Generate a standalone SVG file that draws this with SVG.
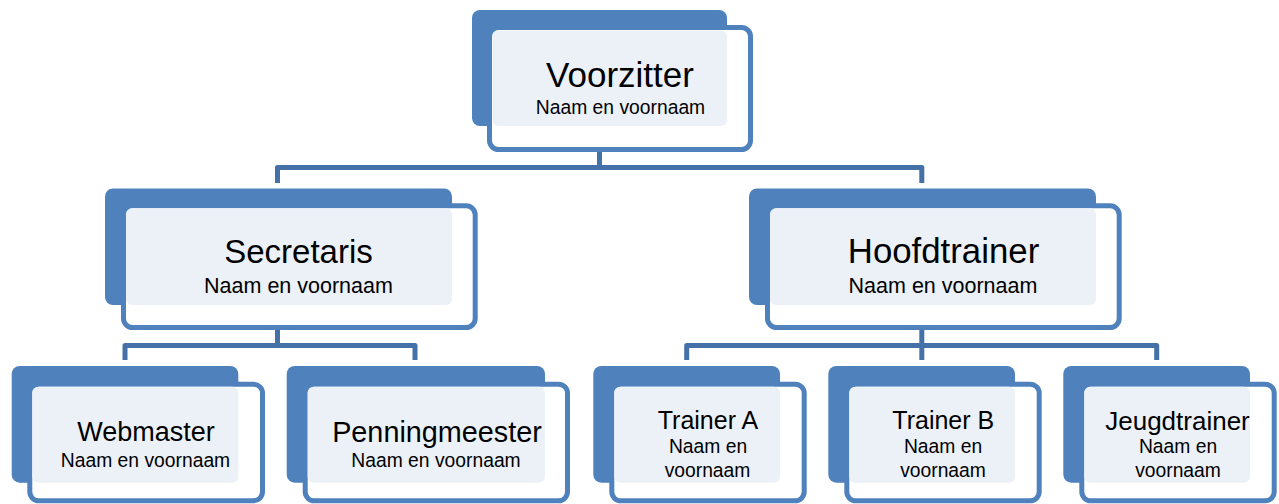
<svg xmlns="http://www.w3.org/2000/svg" width="1279" height="504" viewBox="0 0 1279 504">
<style>
.back{fill:#4F81BD}
.frame{fill:#FFFFFF;stroke:#4F81BD;stroke-width:5}
.lite{fill:#ECF1F8}
.strip{fill:#E6EBF4}
.conn{fill:none;stroke:#4471A8;stroke-width:5;stroke-linejoin:round}
text{font-family:"Liberation Sans",Arial,sans-serif;fill:#000;text-anchor:middle}
.t1{font-size:34px}
.s1{font-size:21.5px}
.s0{font-size:19.3px}
.t2{font-size:26px}
.s2{font-size:19.3px}
</style>
<rect width="1279" height="504" fill="#FFFFFF"/>
<g id="connectors">
<rect class="strip" x="597" y="132" width="5" height="16"/>
<rect class="strip" x="275.5" y="311" width="5" height="14"/>
<rect class="strip" x="919.5" y="311" width="5" height="14"/>
<path class="conn" d="M599.5 150V167.5"/>
<path class="conn" d="M277.5 183V167.5H921.8V183"/>
<path class="conn" d="M277.5 328V345.5"/>
<path class="conn" d="M125 360V345.5H415V360"/>
<path class="conn" d="M921.8 328V360"/>
<path class="conn" d="M686.7 360V345.5H1156.7V360"/>
</g>
<g id="voorzitter">
<rect class="back" x="472" y="10" width="255" height="116" rx="8"/>
<rect class="frame" x="489.5" y="27.5" width="261" height="122" rx="9"/>
<rect class="lite" x="492.5" y="30.5" width="234.5" height="95.5" rx="6"/>
<text class="t1" x="620" y="87" style="font-size:35px">Voorzitter</text>
<text class="s0" x="620.5" y="114">Naam en voornaam</text>
</g>
<g id="secretaris">
<rect class="back" x="105" y="188.5" width="347" height="116.5" rx="8"/>
<rect class="frame" x="123.5" y="205.8" width="351.7" height="121.7" rx="9"/>
<rect class="lite" x="126" y="208.3" width="326" height="96.7" rx="6"/>
<text class="t1" x="298.5" y="263.3" style="font-size:33px">Secretaris</text>
<text class="s1" x="298.5" y="293.3">Naam en voornaam</text>
</g>
<g id="hoofdtrainer">
<rect class="back" x="749" y="188.5" width="347" height="116.5" rx="8"/>
<rect class="frame" x="767.5" y="205.8" width="351.7" height="121.7" rx="9"/>
<rect class="lite" x="770" y="208.3" width="326" height="96.7" rx="6"/>
<text class="t1" x="943.5" y="263.3" style="font-size:34.8px">Hoofdtrainer</text>
<text class="s1" x="943" y="293.3">Naam en voornaam</text>
</g>
<g id="webmaster">
<rect class="back" x="11.7" y="366" width="226.6" height="116.7" rx="8"/>
<rect class="frame" x="29.8" y="384.2" width="232.7" height="116.6" rx="9"/>
<rect class="lite" x="32.3" y="386.7" width="206" height="96" rx="6"/>
<text class="t2" x="146" y="441" style="font-size:27px">Webmaster</text>
<text class="s2" x="145.5" y="466.7">Naam en voornaam</text>
</g>
<g id="penningmeester">
<rect class="back" x="286.7" y="366" width="258.3" height="116.7" rx="8"/>
<rect class="frame" x="305.2" y="384.2" width="262.3" height="116.6" rx="9"/>
<rect class="lite" x="307.7" y="386.7" width="237.3" height="96" rx="6"/>
<text class="t2" x="437" y="441.7" style="font-size:28.8px">Penningmeester</text>
<text class="s2" x="436" y="466.7">Naam en voornaam</text>
</g>
<g id="trainer-a">
<rect class="back" x="593.3" y="366" width="186.7" height="116.7" rx="8"/>
<rect class="frame" x="611.8" y="384.2" width="192.4" height="116.6" rx="9"/>
<rect class="lite" x="614.3" y="386.7" width="165.7" height="96" rx="6"/>
<text class="t2" x="708" y="429.3" style="font-size:25px">Trainer A</text>
<text class="s2" x="708" y="453.3">Naam en</text>
<text class="s2" x="707.5" y="476.7">voornaam</text>
</g>
<g id="trainer-b">
<rect class="back" x="828.3" y="366" width="186.7" height="116.7" rx="8"/>
<rect class="frame" x="846.8" y="384.2" width="192.4" height="116.6" rx="9"/>
<rect class="lite" x="849.3" y="386.7" width="165.7" height="96" rx="6"/>
<text class="t2" x="943.3" y="429.3" style="font-size:25px">Trainer B</text>
<text class="s2" x="943" y="453.3">Naam en</text>
<text class="s2" x="943" y="476.7">voornaam</text>
</g>
<g id="jeugdtrainer">
<rect class="back" x="1063.3" y="366" width="186.7" height="116.7" rx="8"/>
<rect class="frame" x="1081.8" y="384.2" width="192.4" height="116.6" rx="9"/>
<rect class="lite" x="1084.3" y="386.7" width="165.7" height="96" rx="6"/>
<text class="t2" x="1177.5" y="430">Jeugdtrainer</text>
<text class="s2" x="1178" y="453.3">Naam en</text>
<text class="s2" x="1178" y="476.7">voornaam</text>
</g>
</svg>
